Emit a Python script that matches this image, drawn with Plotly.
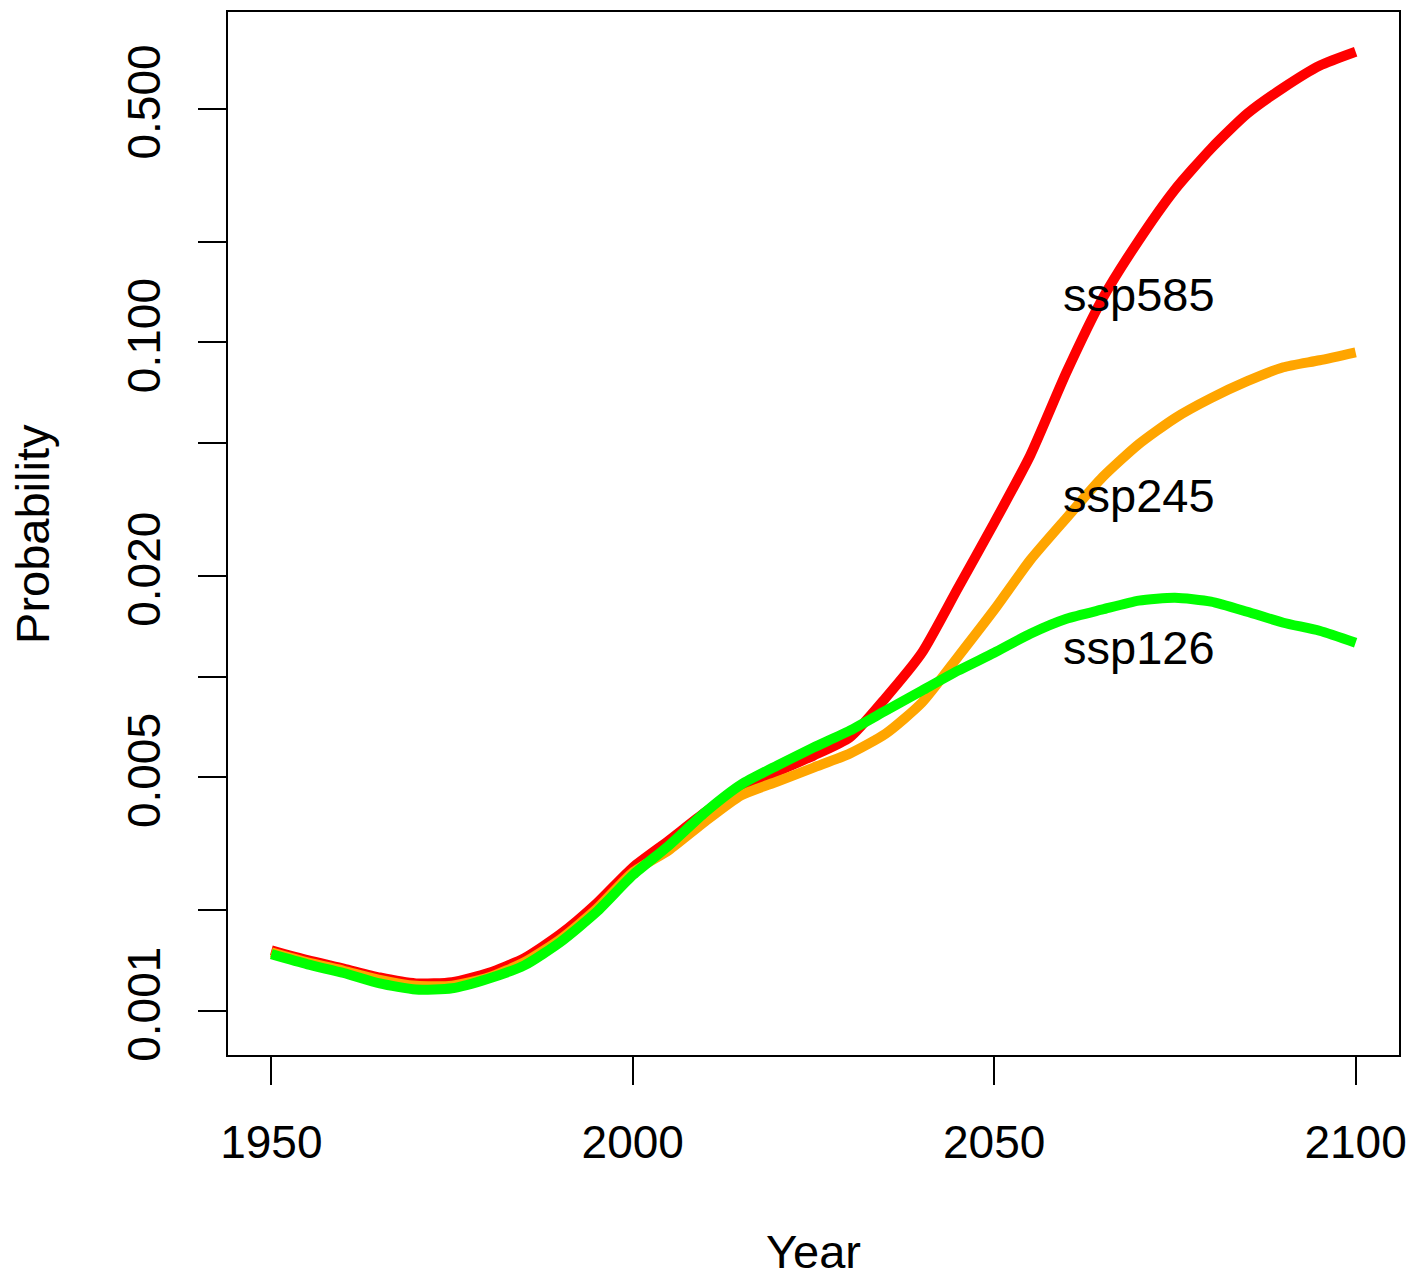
import math
import plotly.graph_objects as go

# Years of the smoothed annual-exceedance series (5-year steps)
years = [1950, 1955, 1960, 1965, 1970, 1975, 1980, 1985, 1990, 1995,
         2000, 2005, 2010, 2015, 2020, 2025, 2030, 2035, 2040, 2045,
         2050, 2055, 2060, 2065, 2070, 2075, 2080, 2085, 2090, 2095, 2100]

ssp585 = [0.00152, 0.00142, 0.00134, 0.00126, 0.00121, 0.00122, 0.00130, 0.00144,
          0.00170, 0.00210, 0.00269, 0.00324, 0.00393, 0.00463, 0.00521, 0.00581,
          0.00658, 0.00866, 0.01180, 0.01845, 0.02886, 0.04600, 0.08150, 0.1355,
          0.2020, 0.2867, 0.3802, 0.4835, 0.5781, 0.6726, 0.7405]

ssp245 = [0.00150, 0.00140, 0.00132, 0.00124, 0.00119, 0.00119, 0.00126, 0.00140,
          0.00164, 0.00202, 0.00260, 0.00303, 0.00369, 0.00442, 0.00486, 0.00535,
          0.00589, 0.00676, 0.00837, 0.01148, 0.01586, 0.02237, 0.02986, 0.03958,
          0.04966, 0.05938, 0.06815, 0.07658, 0.08433, 0.08849, 0.09348]

ssp126 = [0.00148, 0.00138, 0.00130, 0.00121, 0.00116, 0.00117, 0.00125, 0.00137,
          0.00161, 0.00198, 0.00255, 0.00313, 0.00393, 0.00476, 0.00543, 0.00614,
          0.00690, 0.00792, 0.00909, 0.01043, 0.01180, 0.01345, 0.01491, 0.01590,
          0.01690, 0.01723, 0.01678, 0.01565, 0.01451, 0.01373, 0.01264]

# Scenario labels placed beside the curves
label_names = ["ssp585", "ssp245", "ssp126"]
label_year = [2070, 2070, 2070]
label_prob = [0.139, 0.0349, 0.01225]

# Log-axis ticks; only every other one carries a label
ytick_vals = [0.001, 0.002, 0.005, 0.01, 0.02, 0.05, 0.1, 0.2, 0.5]
ytick_text = ["0.001", "", "0.005", "", "0.020", "", "0.100", "", "0.500"]
xtick_vals = [1950, 2000, 2050, 2100]

series = [("ssp585", ssp585, "#FF0000"),
          ("ssp245", ssp245, "#FFA500"),
          ("ssp126", ssp126, "#00FF00")]

FONT = "Liberation Sans, Arial, sans-serif"

fig = go.Figure()
for name, vals, color in series:
    fig.add_trace(go.Scatter(
        x=years, y=vals, mode="lines", name=name,
        line=dict(color=color, width=10, shape="spline", smoothing=0.6),
    ))

# annotations on a log axis take log10 coordinates
for name, yr, pr in zip(label_names, label_year, label_prob):
    fig.add_annotation(x=yr, y=math.log10(pr), yref="y", xref="x", text=name,
                       showarrow=False, xanchor="center", yanchor="middle",
                       font=dict(family=FONT, size=47, color="black"))

# Axis titles
fig.add_annotation(x=0.5, y=-0.2162, xref="paper", yref="paper", text="Year",
                   showarrow=False, xanchor="center", yanchor="bottom",
                   font=dict(family=FONT, size=47, color="black"))
fig.add_annotation(x=-0.167, y=0.5, xref="paper", yref="paper", text="Probability",
                   showarrow=False, textangle=-90, xanchor="center", yanchor="middle",
                   font=dict(family=FONT, size=47, color="black"))

fig.update_layout(
    width=1417, height=1277, autosize=False,
    margin=dict(l=228, r=14, t=10, b=222),
    paper_bgcolor="white", plot_bgcolor="white",
    showlegend=False,
    font=dict(family=FONT, size=46, color="black"),
    xaxis=dict(
        range=[1944, 2106], tickvals=xtick_vals,
        ticks="outside", ticklen=28, tickwidth=1.5, tickcolor="black",
        showline=True, linecolor="black", linewidth=1.5, mirror=True,
        showgrid=False, zeroline=False, ticklabelstandoff=18,
        tickfont=dict(family=FONT, size=46, color="black"),
    ),
    yaxis=dict(
        type="log", range=[-3.1314, -0.0114],
        tickvals=ytick_vals, ticktext=ytick_text, tickangle=-90,
        ticks="outside", ticklen=28, tickwidth=1.5, tickcolor="black",
        showline=True, linecolor="black", linewidth=1.5, mirror=True,
        showgrid=False, zeroline=False, ticklabelstandoff=20,
        tickfont=dict(family=FONT, size=46, color="black"),
    ),
)

fig.write_html("out.html")
